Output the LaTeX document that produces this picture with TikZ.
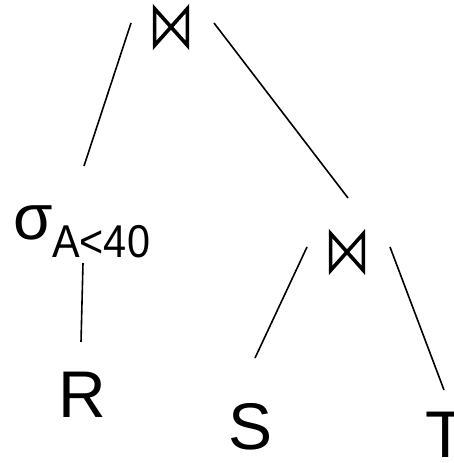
\documentclass[tikz,border=0pt]{standalone}
\usepackage{fontspec}
\setmainfont{Liberation Sans}
\begin{document}
\begin{tikzpicture}[x=1pt,y=-1pt,
  edge/.style={line width=1.6pt},
  joinbox/.style={minimum width=36pt,minimum height=40pt,inner sep=0pt},
  joinmark/.style={line width=3.6pt,line join=miter},
  rel/.style={font=\fontsize{66}{66}\selectfont,anchor=base,inner sep=0pt}]
\useasboundingbox (0,0) rectangle (454,463);
% join nodes
\node[joinbox] (j1) at (171,27) {};
\node[joinbox] (j2) at (347,252) {};
\foreach \j in {j1,j2}{
  \draw[joinmark] ([xshift=1.8pt,yshift=-1.8pt]\j.north west) -- ([xshift=-1.8pt,yshift=1.8pt]\j.south east) -- ([xshift=-1.8pt,yshift=-1.8pt]\j.north east) -- ([xshift=1.8pt,yshift=1.8pt]\j.south west) -- cycle;
}
% selection
\node[anchor=base west,inner sep=0pt,font=\fontsize{64}{64}\selectfont] (sig) at (13,239) {σ};
\node[anchor=base west,inner sep=0pt,font=\fontsize{46}{46}\selectfont] (cond) at (52,257) {\scalebox{0.9}[1]{A<40}};
% relations
\node[rel] (R) at (82,417) {R};
\node[rel] (S) at (251,449) {S};
\node[rel,anchor=base west] (T) at (425,457) {T};
% connector endpoints
\coordinate (a1) at (131,23);  \coordinate (a2) at (84,166);
\coordinate (b1) at (214,23);  \coordinate (b2) at (348,198);
\coordinate (c1) at (83,263);  \coordinate (c2) at (81,342);
\coordinate (d1) at (307,247); \coordinate (d2) at (255,358);
\coordinate (e1) at (390,247); \coordinate (e2) at (444,390);
\draw[edge] (a1) -- (a2);
\draw[edge] (b1) -- (b2);
\draw[edge] (c1) -- (c2);
\draw[edge] (d1) -- (d2);
\draw[edge] (e1) -- (e2);
\end{tikzpicture}
\end{document}
